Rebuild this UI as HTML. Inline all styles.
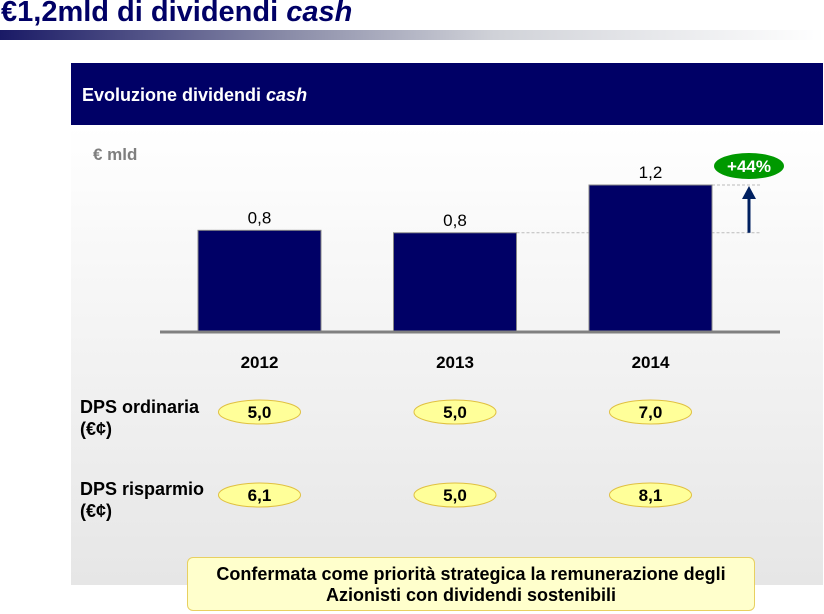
<!DOCTYPE html>
<html><head><meta charset="utf-8"><style>
body{margin:0;width:824px;height:614px;background:#fff;font-family:"Liberation Sans",sans-serif;position:relative;overflow:hidden}
.a{position:absolute}
</style></head><body>
<div class="a" style="left:1px;top:-4px;font-size:29px;font-weight:bold;color:#000066">€1,2mld di dividendi <i>cash</i></div>
<div class="a" style="left:0;top:30px;width:824px;height:10px;background:linear-gradient(90deg,#1a1a66,#8a8ca8 35%,#d0d2d8 60%,#fff)"></div>
<div class="a" style="left:71px;top:63px;width:752px;height:62px;background:#000066;color:#fff;font-weight:bold;font-size:18px;line-height:64px;text-indent:11px">Evoluzione dividendi <i>cash</i></div>
<div class="a" style="left:71px;top:125px;width:752px;height:460px;background:linear-gradient(180deg,#fff,#e6e6e6)"></div>
<svg class="a" style="left:0;top:0" width="824" height="614">
<text x="93" y="160" font-size="17" font-weight="bold" fill="#7f7f7f">€ mld</text>
<g id="g"></g>
</svg>
<div class="a" style="left:80px;top:396px;font-size:18px;font-weight:bold;line-height:22px">DPS ordinaria<br>(€¢)</div>
<div class="a" style="left:80px;top:478px;font-size:18px;font-weight:bold;line-height:22px">DPS risparmio<br>(€¢)</div>
<div class="a" style="left:187px;top:557px;width:568px;height:54px;background:#ffffcc;border:1px solid #e8d060;border-radius:6px;text-align:center;font-weight:bold;font-size:18px;line-height:21px;padding-top:6px;box-sizing:border-box;white-space:nowrap">Confermata come priorità strategica la remunerazione degli<br>Azionisti con dividendi sostenibili</div>
<script>
const categories=["2012","2013","2014"];
const dividends=[0.83,0.81,1.2];
const dividendLabels=["0,8","0,8","1,2"];
const dpsOrdinaria=["5,0","5,0","7,0"];
const dpsRisparmio=["6,1","5,0","8,1"];
const growthLabel="+44%";
const NS="http://www.w3.org/2000/svg",g=document.getElementById('g');
const base=332,scale=122.5,x0=198,step=195.5,bw=123;
const y=v=>base-v*scale;
function mk(t,a,txt){const e=document.createElementNS(NS,t);for(const k in a)e.setAttribute(k,a[k]);if(txt!=null)e.textContent=txt;g.appendChild(e);return e;}
let l1=mk('line',{x1:x0+step+bw,x2:760,y1:y(dividends[1]),y2:y(dividends[1]),stroke:'#bbb','stroke-dasharray':'3,2'});


let l2=mk('line',{x1:x0+2*step+bw,x2:760,y1:y(dividends[2]),y2:y(dividends[2]),stroke:'#bbb','stroke-dasharray':'3,2'});


categories.forEach((c,i)=>{
 const x=x0+i*step,cx=x+bw/2;
 let r=mk('rect',{x:x,y:y(dividends[i]),width:bw,height:dividends[i]*scale,fill:'#000066',stroke:'#888','stroke-width':1});
 
 
 let t=mk('text',{x:cx,y:y(dividends[i])-7,'text-anchor':'middle','font-size':17},dividendLabels[i]);
 
 
 let xl=mk('text',{x:cx,y:368,'text-anchor':'middle','font-size':17,'font-weight':'bold'},c);
 
 
 [[dpsOrdinaria,412,'dps-ordinaria-'],[dpsRisparmio,495,'dps-risparmio-']].forEach(([arr,yy,n])=>{
  let e=mk('ellipse',{cx:cx,cy:yy,rx:41,ry:12,fill:'#ffff99',stroke:'#e0c040'});
  
  
  let tt=mk('text',{x:cx,y:yy+6,'text-anchor':'middle','font-size':17,'font-weight':'bold'},arr[i]);
  
  
 });
});
let ax=mk('line',{x1:160,x2:780,y1:base,y2:base,stroke:'#808080','stroke-width':3});


let ar=mk('line',{x1:749,x2:749,y1:y(dividends[1]),y2:y(dividends[2])+12,stroke:'#002060','stroke-width':3});


let ah=mk('polygon',{points:`742,${y(dividends[2])+14} 756,${y(dividends[2])+14} 749,${y(dividends[2])+1}`,fill:'#002060'});


let ge=mk('ellipse',{cx:749,cy:166,rx:35,ry:13,fill:'#009900'});


let gt=mk('text',{x:749,y:172,'text-anchor':'middle','font-size':17,'font-weight':'bold',fill:'#fff'},growthLabel);


</script>
</body></html>
